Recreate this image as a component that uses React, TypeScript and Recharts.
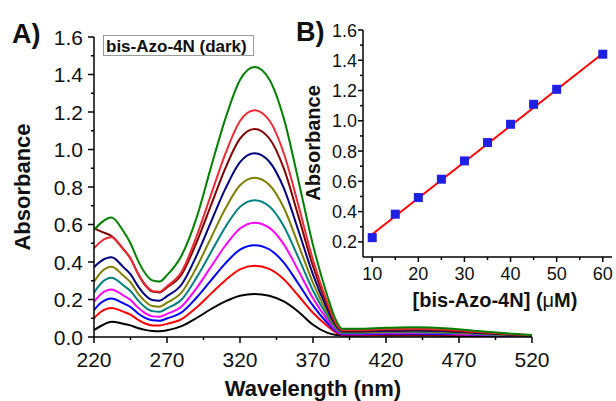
import React from 'react';
import { LineChart, Line, XAxis, YAxis, ComposedChart, Scatter } from 'recharts';

const wavelengths = [220, 225, 232, 240, 245, 250, 255, 260, 265, 270, 280, 290, 300, 310, 320, 330, 340, 350, 360, 370, 380, 385, 390, 400, 420, 440, 460, 480, 500, 520];

const abs10 = [0.037, 0.06, 0.082, 0.071, 0.062, 0.048, 0.038, 0.032, 0.031, 0.036, 0.058, 0.10, 0.148, 0.19, 0.22, 0.23, 0.22, 0.19, 0.135, 0.065, 0.022, 0.012, 0.008, 0.007, 0.008, 0.008, 0.007, 0.005, 0.003, 0.002];
const abs15 = [0.10, 0.136, 0.155, 0.135, 0.119, 0.093, 0.072, 0.062, 0.062, 0.07, 0.095, 0.156, 0.23, 0.303, 0.361, 0.38, 0.363, 0.308, 0.22, 0.129, 0.057, 0.027, 0.012, 0.012, 0.013, 0.014, 0.013, 0.009, 0.006, 0.003];
const abs20 = [0.144, 0.184, 0.206, 0.18, 0.16, 0.127, 0.102, 0.089, 0.087, 0.099, 0.131, 0.208, 0.301, 0.393, 0.466, 0.49, 0.468, 0.397, 0.284, 0.167, 0.073, 0.035, 0.015, 0.015, 0.017, 0.018, 0.016, 0.012, 0.007, 0.004];
const abs25 = [0.188, 0.231, 0.254, 0.222, 0.197, 0.158, 0.127, 0.11, 0.108, 0.123, 0.163, 0.258, 0.373, 0.488, 0.579, 0.61, 0.583, 0.494, 0.354, 0.207, 0.091, 0.043, 0.019, 0.019, 0.021, 0.022, 0.02, 0.014, 0.009, 0.004];
const abs30 = [0.236, 0.288, 0.316, 0.276, 0.245, 0.197, 0.159, 0.138, 0.135, 0.153, 0.20, 0.314, 0.45, 0.587, 0.694, 0.73, 0.697, 0.591, 0.423, 0.248, 0.109, 0.051, 0.022, 0.022, 0.025, 0.026, 0.023, 0.017, 0.01, 0.005];
const abs35 = [0.295, 0.347, 0.375, 0.328, 0.292, 0.234, 0.19, 0.165, 0.162, 0.183, 0.238, 0.368, 0.527, 0.685, 0.809, 0.85, 0.812, 0.689, 0.493, 0.289, 0.127, 0.06, 0.026, 0.026, 0.029, 0.031, 0.028, 0.02, 0.012, 0.006];
const abs40 = [0.372, 0.406, 0.425, 0.374, 0.335, 0.273, 0.224, 0.197, 0.194, 0.218, 0.28, 0.43, 0.611, 0.791, 0.933, 0.98, 0.936, 0.794, 0.568, 0.333, 0.146, 0.069, 0.03, 0.03, 0.033, 0.035, 0.032, 0.023, 0.014, 0.007];
const abs45 = [0.58, 0.562, 0.538, 0.47, 0.419, 0.339, 0.277, 0.242, 0.238, 0.264, 0.334, 0.50, 0.70, 0.901, 1.058, 1.11, 1.06, 0.899, 0.644, 0.377, 0.165, 0.078, 0.034, 0.034, 0.038, 0.04, 0.036, 0.026, 0.016, 0.008];
const abs50 = [0.473, 0.511, 0.532, 0.468, 0.419, 0.341, 0.28, 0.246, 0.242, 0.271, 0.348, 0.532, 0.755, 0.978, 1.152, 1.21, 1.156, 0.98, 0.702, 0.411, 0.18, 0.085, 0.037, 0.037, 0.042, 0.044, 0.04, 0.029, 0.018, 0.009];
const abs60 = [0.57, 0.61, 0.637, 0.565, 0.50, 0.41, 0.34, 0.302, 0.296, 0.33, 0.435, 0.63, 0.902, 1.165, 1.371, 1.44, 1.375, 1.166, 0.835, 0.49, 0.215, 0.102, 0.044, 0.044, 0.049, 0.052, 0.047, 0.034, 0.021, 0.01];

const seriesKeys = ['c10', 'c15', 'c20', 'c25', 'c30', 'c35', 'c40', 'c45', 'c50', 'c60'];
const seriesValues = [abs10, abs15, abs20, abs25, abs30, abs35, abs40, abs45, abs50, abs60];
const seriesColors = ['#000000', '#ff0000', '#0000ff', '#ff00ff', '#008080', '#808000', '#000080', '#800000', '#ee2b35', '#008000'];

const mainXTicks = [220, 245, 270, 295, 320, 345, 370, 395, 420, 445, 470, 495, 520];
const mainYTicks = [0, 0.1, 0.2, 0.3, 0.4, 0.5, 0.6, 0.7, 0.8, 0.9, 1.0, 1.1, 1.2, 1.3, 1.4, 1.5, 1.6];

const concentrations = [10, 15, 20, 25, 30, 35, 40, 45, 50, 60];
const peakAbsorbance = [0.228, 0.383, 0.493, 0.614, 0.735, 0.856, 0.977, 1.109, 1.208, 1.44];
const fitConc = [10, 60];
const fitAbs = [0.25, 1.445];
const insetXTicks = [10, 15, 20, 25, 30, 35, 40, 45, 50, 55, 60];
const insetYTicks = [0.2, 0.3, 0.4, 0.5, 0.6, 0.7, 0.8, 0.9, 1.0, 1.1, 1.2, 1.3, 1.4, 1.5, 1.6];

const spectraData = wavelengths.map((wl, i) => {
  const row: Record<string, number> = { wl };
  seriesKeys.forEach((k, j) => {
    row[k] = seriesValues[j][i];
  });
  return row;
});
const pointsData = concentrations.map((c, i) => ({ conc: c, abs: peakAbsorbance[i] }));
const fitData = fitConc.map((c, i) => ({ conc: c, abs: fitAbs[i] }));

const FONT = '"Liberation Sans", Arial, Helvetica, sans-serif';

const MainXTick = (props: any) => {
  const { x, y, payload } = props;
  const v = payload.value;
  const major = (v - 220) % 50 === 0;
  return (
    <g>
      <line x1={x} x2={x} y1={y} y2={y + (major ? 6 : 3)} stroke="#000" strokeWidth={1.5} />
      {major && (
        <text x={x} y={y + 30} textAnchor="middle" fontSize={21} fontFamily={FONT} fill="#111">
          {v}
        </text>
      )}
    </g>
  );
};

const MainYTick = (props: any) => {
  const { x, y, payload } = props;
  const v = payload.value;
  const major = Math.round(v * 10) % 2 === 0;
  return (
    <g>
      <line x1={x} x2={x - (major ? 6 : 3)} y1={y} y2={y} stroke="#000" strokeWidth={1.5} />
      {major && (
        <text x={x - 11} y={y + 7.5} textAnchor="end" fontSize={21} fontFamily={FONT} fill="#111">
          {v.toFixed(1)}
        </text>
      )}
    </g>
  );
};

const InsetXTick = (props: any) => {
  const { x, y, payload } = props;
  const v = payload.value;
  const major = v % 10 === 0;
  return (
    <g>
      <line x1={x} x2={x} y1={y} y2={y + (major ? 5 : 3)} stroke="#000" strokeWidth={1.5} />
      {major && (
        <text x={x} y={y + 23} textAnchor="middle" fontSize={18} fontFamily={FONT} fill="#111">
          {v}
        </text>
      )}
    </g>
  );
};

const InsetYTick = (props: any) => {
  const { x, y, payload } = props;
  const v = payload.value;
  const major = Math.round(v * 10) % 2 === 0;
  return (
    <g>
      <line x1={x} x2={x - (major ? 5 : 3)} y1={y} y2={y} stroke="#000" strokeWidth={1.5} />
      {major && (
        <text x={x - 6} y={y + 6.5} textAnchor="end" fontSize={18} fontFamily={FONT} fill="#111">
          {v.toFixed(1)}
        </text>
      )}
    </g>
  );
};

const SquareDot = (props: any) => {
  const { cx, cy } = props;
  return <rect x={cx - 4.5} y={cy - 4.5} width={9} height={9} fill="#1f1fe6" />;
};

export default function App() {
  return (
    <div style={{ position: 'absolute', left: 0, top: 0, width: 616, height: 401, background: '#fff' }}>
      <div style={{ position: 'absolute', left: 0, top: 0 }}>
        <LineChart width={616} height={401} data={spectraData} margin={{ top: 37, right: 84, bottom: 0, left: 0 }}>
          <XAxis
            dataKey="wl"
            type="number"
            domain={[220, 520]}
            ticks={mainXTicks}
            interval={0}
            height={64}
            tickSize={0}
            tickMargin={0}
            tickLine={false}
            tick={<MainXTick />}
            axisLine={{ stroke: '#000', strokeWidth: 1.5 }}
            allowDataOverflow
          />
          <YAxis
            type="number"
            domain={[0, 1.6]}
            ticks={mainYTicks}
            interval={0}
            width={94}
            tickSize={0}
            tickMargin={0}
            tickLine={false}
            tick={<MainYTick />}
            axisLine={{ stroke: '#000', strokeWidth: 1.5 }}
            allowDataOverflow
          />
          {seriesKeys.map((k, j) => (
            <Line
              key={k}
              dataKey={k}
              type="monotone"
              stroke={seriesColors[j]}
              strokeWidth={2}
              dot={false}
              isAnimationActive={false}
            />
          ))}
        </LineChart>
      </div>
      <div style={{ position: 'absolute', left: 0, top: 0 }}>
        <ComposedChart width={616} height={401} margin={{ top: 30, right: 4, bottom: 84, left: 303 }}>
          <XAxis
            dataKey="conc"
            type="number"
            domain={[8, 62]}
            ticks={insetXTicks}
            interval={0}
            height={60}
            tickSize={0}
            tickMargin={0}
            tickLine={false}
            tick={<InsetXTick />}
            axisLine={{ stroke: '#000', strokeWidth: 1.5 }}
            allowDataOverflow
          />
          <YAxis
            type="number"
            domain={[0.1, 1.6]}
            ticks={insetYTicks}
            interval={0}
            width={60}
            tickSize={0}
            tickMargin={0}
            tickLine={false}
            tick={<InsetYTick />}
            axisLine={{ stroke: '#000', strokeWidth: 1.5 }}
            allowDataOverflow
          />
          <Scatter data={pointsData} dataKey="abs" shape={<SquareDot />} isAnimationActive={false} />
          <Line data={fitData} dataKey="abs" type="linear" stroke="#ff0000" strokeWidth={2} dot={false} isAnimationActive={false} />
        </ComposedChart>
      </div>
      <svg width={616} height={401} style={{ position: 'absolute', left: 0, top: 0, pointerEvents: 'none' }}>
        <text x={12} y={43} fontSize={27} fontWeight="bold" fontFamily={FONT} fill="#111">A)</text>
        <text x={296} y={41} fontSize={27} fontWeight="bold" fontFamily={FONT} fill="#111">B)</text>
        <rect x={103.5} y={35.5} width={150} height={20} fill="#fff" stroke="#999" strokeWidth={1} />
        <text x={106} y={51.5} fontSize={17} fontWeight="bold" fontFamily={FONT} fill="#111">bis-Azo-4N (dark)</text>
        <text x={30} y={187} transform="rotate(-90 30 187)" textAnchor="middle" fontSize={22} fontWeight="bold" fontFamily={FONT} fill="#111">Absorbance</text>
        <text x={313} y={396} textAnchor="middle" fontSize={22} fontWeight="bold" fontFamily={FONT} fill="#111">Wavelength (nm)</text>
        <text x={320} y={143} transform="rotate(-90 320 143)" textAnchor="middle" fontSize={20} fontWeight="bold" fontFamily={FONT} fill="#111">Absorbance</text>
        <text x={495} y={307} textAnchor="middle" fontSize={20} fontWeight="bold" fontFamily={FONT} fill="#111">[bis-Azo-4N] (<tspan fontWeight="normal">μ</tspan>M)</text>
      </svg>
    </div>
  );
}
